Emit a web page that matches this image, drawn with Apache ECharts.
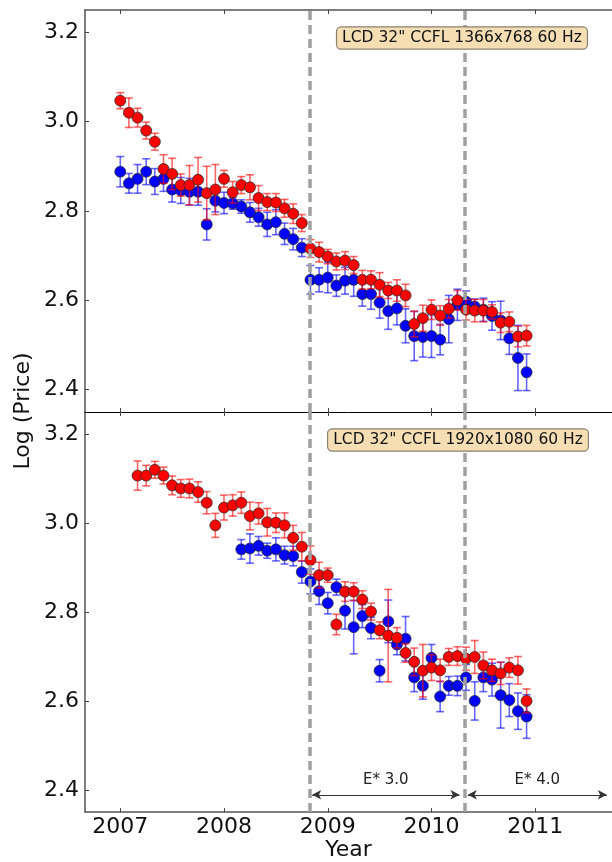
<!DOCTYPE html>
<html>
<head>
<meta charset="utf-8">
<script src="https://cdn.jsdelivr.net/npm/echarts@6/dist/echarts.min.js"></script>
<style>
html, body { margin: 0; padding: 0; background: #fff; }
#main { width: 612px; height: 862px; }
</style>
</head>
<body>
<div id="main"></div>
<script>
// monthly sampling points (categories)
var months = [
  '2007-01','2007-02','2007-03','2007-04','2007-05','2007-06','2007-07','2007-08','2007-09','2007-10','2007-11','2007-12',
  '2008-01','2008-02','2008-03','2008-04','2008-05','2008-06','2008-07','2008-08','2008-09','2008-10','2008-11','2008-12',
  '2009-01','2009-02','2009-03','2009-04','2009-05','2009-06','2009-07','2009-08','2009-09','2009-10','2009-11','2009-12',
  '2010-01','2010-02','2010-03','2010-04','2010-05','2010-06','2010-07','2010-08','2010-09','2010-10','2010-11','2010-12'
];
var yearTicks = [2007, 2008, 2009, 2010, 2011];
var priceTicks = [2.4, 2.6, 2.8, 3.0, 3.2];

// LCD 32" CCFL 1366x768 60 Hz  (from 2007-01)
var topRed = [3.047,3.020,3.009,2.980,2.955,2.894,2.883,2.858,2.858,2.870,2.840,2.848,
  2.872,2.842,2.858,2.853,2.829,2.820,2.819,2.806,2.794,2.773,2.716,2.708,
  2.698,2.687,2.689,2.679,2.646,2.646,2.635,2.622,2.622,2.611,2.547,2.560,
  2.579,2.566,2.581,2.600,2.579,2.577,2.577,2.574,2.550,2.552,2.519,2.521];
var topRedErr = [0.018,0.033,0.021,0.019,0.019,0.032,0.035,0.025,0.044,0.050,0.060,0.056,
  0.019,0.024,0.019,0.028,0.028,0.019,0.020,0.020,0.022,0.019,0.020,0.022,
  0.016,0.019,0.020,0.019,0.021,0.020,0.027,0.018,0.024,0.025,0.029,0.029,
  0.022,0.022,0.021,0.022,0.023,0.025,0.025,0.016,0.022,0.022,0.023,0.023];
var topBlue = [2.888,2.862,2.872,2.888,2.866,2.872,2.848,2.846,2.843,2.843,2.770,2.823,
  2.818,2.817,2.810,2.797,2.786,2.770,2.775,2.749,2.737,2.718,2.646,2.646,
  2.651,2.633,2.644,2.646,2.614,2.614,2.595,2.576,2.582,2.543,2.520,2.518,
  2.520,2.512,2.558,2.590,2.597,2.586,2.579,2.565,2.555,2.515,2.471,2.439];
var topBlueErr = [0.034,0.022,0.032,0.029,0.029,0.028,0.028,0.029,0.030,0.030,0.035,0.025,
  0.024,0.013,0.015,0.022,0.020,0.027,0.028,0.024,0.024,0.020,0.032,0.027,
  0.034,0.024,0.030,0.037,0.027,0.034,0.035,0.041,0.037,0.038,0.055,0.045,
  0.048,0.034,0.053,0.035,0.024,0.017,0.026,0.032,0.043,0.036,0.073,0.041];

// LCD 32" CCFL 1920x1080 60 Hz  (red from 2007-03, blue from 2008-03)
var botRed = [3.107,3.107,3.120,3.107,3.085,3.078,3.078,3.070,3.046,2.995,
  3.035,3.040,3.046,3.016,3.022,3.002,3.001,2.995,2.967,2.947,2.917,2.883,
  2.883,2.772,2.846,2.846,2.828,2.801,2.759,2.747,2.742,2.708,2.688,2.668,
  2.675,2.669,2.699,2.701,2.695,2.699,2.680,2.669,2.662,2.675,2.669,2.600];
var botRedErr = [0.033,0.023,0.019,0.019,0.021,0.020,0.021,0.023,0.025,0.027,
  0.028,0.024,0.024,0.031,0.024,0.031,0.022,0.028,0.028,0.032,0.032,0.029,
  0.016,0.023,0.022,0.020,0.020,0.019,0.019,0.104,0.023,0.021,0.031,0.059,
  0.029,0.025,0.019,0.021,0.026,0.037,0.030,0.025,0.025,0.022,0.031,0.027];
var botBlue = [2.941,2.943,2.949,2.938,2.941,2.928,2.926,2.890,2.869,2.847,
  2.820,2.856,2.803,2.766,2.791,2.764,2.668,2.779,2.727,2.740,2.653,2.634,
  2.697,2.610,2.634,2.634,2.653,2.600,2.653,2.648,2.613,2.602,2.577,2.565];
var botBlueErr = [0.022,0.033,0.021,0.017,0.026,0.020,0.022,0.025,0.028,0.030,
  0.024,0.018,0.041,0.060,0.026,0.024,0.025,0.048,0.023,0.050,0.032,0.030,
  0.030,0.034,0.021,0.022,0.029,0.043,0.032,0.037,0.074,0.037,0.041,0.049];

// epoch boundaries and labels
var eraBounds = [2008.83, 2010.32];
var eraArrows = [
  { name: 'E* 3.0', from: 2008.85, to: 2010.27 },
  { name: 'E* 4.0', from: 2010.35, to: 2011.69 }
];
var arrowLevel = 2.389;

var FONT = 'DejaVu Sans';

function toYear(m) {
  var p = m.split('-');
  return +p[0] + (p[1] - 1) / 12;
}
function points(start, vals, errs) {
  var i0 = months.indexOf(start);
  return vals.map(function (v, i) { return [toYear(months[i0 + i]), v, errs[i]]; });
}

function errorBars(idx, data, color, z) {
  return {
    type: 'custom', xAxisIndex: idx, yAxisIndex: idx, z: z, silent: true,
    encode: { x: 0, y: 1 },
    data: data,
    renderItem: function (params, api) {
      var x = api.value(0), y = api.value(1), e = api.value(2);
      var hi = api.coord([x, y + e]), lo = api.coord([x, y - e]);
      var w = 4;
      var st = { stroke: color, lineWidth: 1.6 };
      return { type: 'group', children: [
        { type: 'line', shape: { x1: hi[0], y1: hi[1], x2: lo[0], y2: lo[1] }, style: st },
        { type: 'line', shape: { x1: hi[0] - w, y1: hi[1], x2: hi[0] + w, y2: hi[1] }, style: st },
        { type: 'line', shape: { x1: lo[0] - w, y1: lo[1], x2: lo[0] + w, y2: lo[1] }, style: st }
      ] };
    }
  };
}
function dots(idx, data, color, z) {
  return {
    type: 'scatter', xAxisIndex: idx, yAxisIndex: idx, z: z, silent: true,
    symbolSize: 11,
    itemStyle: { color: color, opacity: 1, borderColor: 'rgba(40,40,40,0.75)', borderWidth: 1 },
    data: data.map(function (d) { return [d[0], d[1]]; })
  };
}

function xAx(grid, pos, labels, line) {
  return {
    type: 'value', gridIndex: grid, position: pos,
    min: 2006.66, max: 2011.74,
    splitLine: { show: false },
    axisLine: { show: line !== null, onZero: false, lineStyle: line || {} },
    axisTick: { inside: true, length: 4, customValues: yearTicks, lineStyle: { color: '#444' } },
    axisLabel: { show: labels, customValues: yearTicks, fontSize: 22, fontFamily: FONT, color: '#111', margin: 4,
      formatter: function (v) { return String(Math.round(v)); } },
    name: labels ? 'Year' : '',
    nameLocation: 'middle', nameGap: 22,
    nameTextStyle: { fontSize: 22, fontFamily: FONT, color: '#111' }
  };
}
function yAx(grid) {
  return {
    type: 'value', gridIndex: grid, min: 2.35, max: 3.25,
    splitLine: { show: false },
    axisLine: { show: true, onZero: false, lineStyle: { color: '#555', width: 1.5 } },
    axisTick: { inside: true, length: 4, customValues: priceTicks, lineStyle: { color: '#444' } },
    axisLabel: { customValues: priceTicks, fontSize: 22, fontFamily: FONT, color: '#111', margin: 6,
      formatter: function (v) { return v.toFixed(1); } }
  };
}

var boxStyle = {
  fontSize: 15.5, fontFamily: FONT, fill: '#111',
  align: 'center', verticalAlign: 'middle',
  backgroundColor: '#f5deb3', borderColor: '#8a8070', borderWidth: 1.2, borderRadius: 4,
  padding: [3, 5, 2, 5]
};

var myChart = echarts.init(document.getElementById('main'));
var option = {
  animation: false,
  backgroundColor: '#fff',
  textStyle: { fontFamily: FONT },
  grid: [
    { left: 85, top: 10, right: 0, height: 402 },
    { left: 85, top: 412, right: 0, height: 403 }
  ],
  xAxis: [
    xAx(0, 'bottom', false, { color: '#000', width: 1 }),
    xAx(1, 'bottom', true, { color: '#555', width: 1.5 }),
    xAx(0, 'top', false, { color: '#555', width: 1.5 }),
    xAx(1, 'top', false, null)
  ],
  yAxis: [yAx(0), yAx(1)],
  series: [
    errorBars(0, points('2007-01', topBlue, topBlueErr), 'rgba(0,0,255,0.6)', 1),
    dots(0, points('2007-01', topBlue, topBlueErr), '#0000ff', 2),
    errorBars(0, points('2007-01', topRed, topRedErr), 'rgba(255,0,0,0.6)', 3),
    dots(0, points('2007-01', topRed, topRedErr), '#ff0000', 4),
    errorBars(1, points('2008-03', botBlue, botBlueErr), 'rgba(0,0,255,0.6)', 1),
    dots(1, points('2008-03', botBlue, botBlueErr), '#0000ff', 2),
    errorBars(1, points('2007-03', botRed, botRedErr), 'rgba(255,0,0,0.6)', 3),
    dots(1, points('2007-03', botRed, botRedErr), '#ff0000', 4),
    {
      type: 'scatter', xAxisIndex: 0, yAxisIndex: 0, data: [], z: 10,
      markLine: { silent: true, z: 10, symbol: ['none', 'none'], label: { show: false },
        lineStyle: { color: '#a0a0a0', width: 3.5, type: [9, 5] },
        data: eraBounds.map(function (v) { return { xAxis: v }; }) }
    },
    {
      type: 'scatter', xAxisIndex: 1, yAxisIndex: 1, data: [], z: 10,
      markLine: { silent: true, z: 10, symbol: ['none', 'none'], label: { show: false },
        lineStyle: { color: '#a0a0a0', width: 3.5, type: [9, 5] },
        data: eraBounds.map(function (v) { return { xAxis: v }; }) }
    },
    {
      type: 'scatter', xAxisIndex: 1, yAxisIndex: 1, data: [], z: 11,
      markLine: { silent: true, z: 11, symbol: ['arrow', 'arrow'], symbolSize: [7, 9],
        lineStyle: { color: '#333', width: 1, type: 'solid' },
        label: { show: true, position: 'middle', formatter: '{b}', fontSize: 15, fontFamily: FONT, color: '#222', distance: 7 },
        data: eraArrows.map(function (a) {
          return [{ name: a.name, coord: [a.from, arrowLevel] }, { coord: [a.to, arrowLevel] }];
        }) }
    }
  ],
  graphic: [
    { type: 'text', x: 23, y: 411, rotation: Math.PI / 2,
      style: { text: 'Log (Price)', fontSize: 22, fontFamily: FONT, fill: '#111', align: 'center', verticalAlign: 'middle' } },
    { type: 'text', x: 462, y: 38, z: 20, style: Object.assign({ text: 'LCD 32" CCFL 1366x768 60 Hz' }, boxStyle) },
    { type: 'text', x: 458, y: 440, z: 20, style: Object.assign({ text: 'LCD 32" CCFL 1920x1080 60 Hz' }, boxStyle) }
  ]
};
myChart.setOption(option);
window.onresize = myChart.resize;
</script>
</body>
</html>
